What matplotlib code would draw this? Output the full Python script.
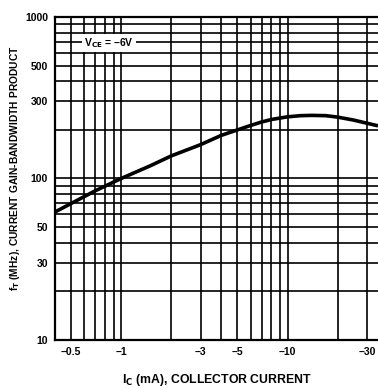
import matplotlib
matplotlib.use("Agg")
import matplotlib.pyplot as plt
from matplotlib.ticker import FixedLocator, LogLocator, NullFormatter

# Curve (|Ic| in mA, fT in MHz), VCE = -6 V
ic_ma = [0.4, 0.5, 0.7, 1.0, 1.5, 2.0, 3.0, 4.0, 5.0, 6.0, 7.0, 8.0,
         10.0, 12.0, 14.0, 17.0, 20.0, 25.0, 30.0, 35.0]
ft_mhz = [62, 70, 84, 100, 120, 138, 162, 185, 200, 213, 224, 232,
          241, 245, 246, 245, 240, 230, 220, 212]

x_ticks = [0.5, 1, 3, 5, 10, 30]
x_ticklabels = ["\u20130.5", "\u20131", "\u20133", "\u20135", "\u201310", "\u201330"]
y_ticks = [10, 30, 50, 100, 300, 500, 1000]
y_ticklabels = ["10", "30", "50", "100", "300", "500", "1000"]

plt.rcParams["font.family"] = ["Liberation Sans Narrow", "Liberation Sans", "DejaVu Sans"]
plt.rcParams["font.weight"] = "bold"
plt.rcParams["axes.labelweight"] = "bold"
plt.rcParams["mathtext.fontset"] = "custom"
plt.rcParams["mathtext.rm"] = "Liberation Sans Narrow:bold"
plt.rcParams["mathtext.default"] = "rm"

fig = plt.figure(figsize=(3.78, 3.88), dpi=100)
ax = fig.add_axes([0.1455, 0.124, 0.8545, 0.832])

ax.set_xscale("log")
ax.set_yscale("log")
ax.set_xlim(0.4, 35)
ax.set_ylim(10, 1000)

ax.xaxis.set_major_locator(FixedLocator(x_ticks))
ax.xaxis.set_minor_locator(LogLocator(base=10, subs=range(1, 10), numticks=20))
ax.xaxis.set_minor_formatter(NullFormatter())
ax.set_xticklabels(x_ticklabels)
ax.yaxis.set_major_locator(FixedLocator(y_ticks))
ax.yaxis.set_minor_locator(LogLocator(base=10, subs=range(1, 10), numticks=20))
ax.yaxis.set_minor_formatter(NullFormatter())
ax.set_yticklabels(y_ticklabels)

ax.tick_params(which="both", length=0, labelsize=7.5, pad=5)
ax.grid(which="both", color="black", linewidth=1.2)
for side in ["left", "bottom", "top"]:
    ax.spines[side].set_linewidth(1.6)
ax.spines["right"].set_visible(False)

ax.plot(ic_ma, ft_mhz, color="black", linewidth=2.6, solid_capstyle="butt")

ax.text(0.6, 690, "V$_{CE}$ = \u20136V", fontsize=7.5, va="center", ha="left",
        bbox=dict(facecolor="white", edgecolor="none", pad=1.5), zorder=5)

ax.set_xlabel("I$_{C}$ (mA), COLLECTOR CURRENT", fontsize=8.8)
ax.xaxis.set_label_coords(0.5, -0.1)
ax.set_ylabel("f$_{T}$ (MHz), CURRENT GAIN-BANDWIDTH PRODUCT", fontsize=7.4)
ax.yaxis.set_label_coords(-0.102, 0.533)

fig.savefig("out.png", dpi=100)
